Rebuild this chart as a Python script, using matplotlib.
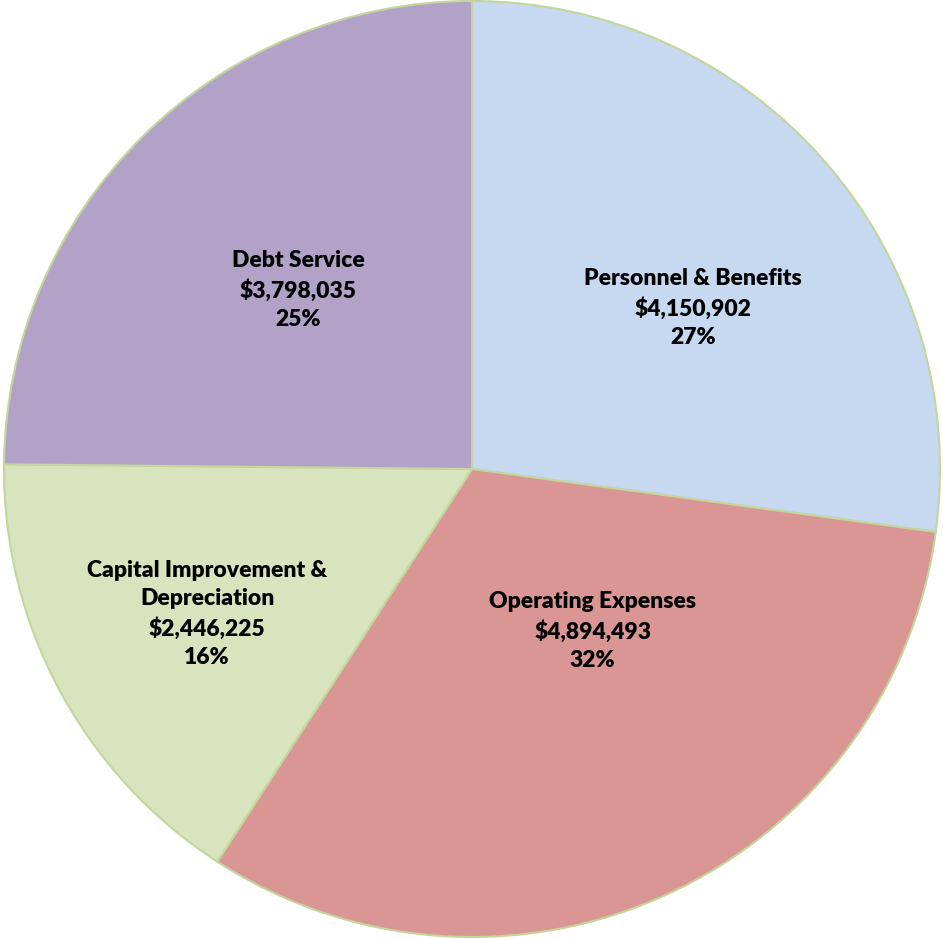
import matplotlib.pyplot as plt

# expense categories, going clockwise from the top
categories = ['Personnel & Benefits', 'Operating Expenses',
              'Capital Improvement &\nDepreciation', 'Debt Service']
amounts = [4150902, 4894493, 2446225, 3798035]
colors = ['#c6d9f1', '#d99694', '#d7e4bd', '#b3a2c7']
# label spots (data units, pie radius = 1)
label_pos = [(0.472, 0.344), (0.258, -0.346), (-0.566, -0.31), (-0.372, 0.382)]

total = sum(amounts)

fig = plt.figure(figsize=(9.43, 9.39), dpi=100)
ax = fig.add_axes([0, 0, 1, 1])
ax.pie(amounts, colors=colors, startangle=90, counterclock=False,
       radius=1.0, wedgeprops={'edgecolor': '#c3d69b', 'linewidth': 1.5})

for cat, amt, (x, y) in zip(categories, amounts, label_pos):
    pct = round(amt / total * 100)
    txt = f'{cat}\n${amt:,}\n{pct}%'
    ax.text(x, y, txt, ha='center', va='center', fontsize=16.5,
            fontweight='heavy', family='Lato', linespacing=1.42)

r = 468.0
ax.set_xlim(-472 / r, (943 - 472) / r)
ax.set_ylim(-470 / r, 469 / r)
ax.set_aspect('auto')
ax.axis('off')

fig.savefig('out.png', dpi=100)
